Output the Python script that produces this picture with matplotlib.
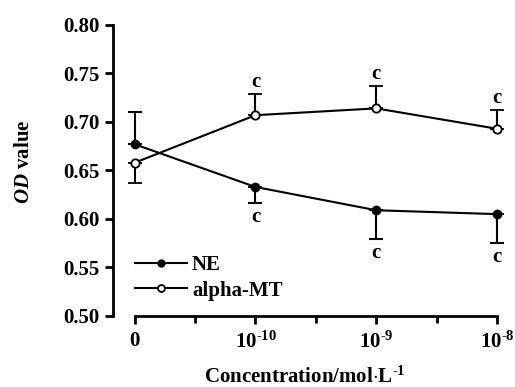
import matplotlib
matplotlib.use('Agg')
from matplotlib import pyplot as plt
from matplotlib import lines
from matplotlib.ticker import FixedLocator

plt.rcParams['font.family'] = ['Liberation Serif', 'DejaVu Serif']
plt.rcParams['font.weight'] = 'bold'
plt.rcParams['mathtext.fontset'] = 'custom'
plt.rcParams['mathtext.rm'] = 'Liberation Serif:bold'
plt.rcParams['mathtext.bf'] = 'Liberation Serif:bold'
plt.rcParams['mathtext.it'] = 'Liberation Serif:bold:italic'

# data
conc_labels = ['0', '10$^{\\mathregular{\u201010}}$', '10$^{\\mathregular{\u20109}}$', '10$^{\\mathregular{\u20108}}$']
ne_mean = [0.677, 0.633, 0.609, 0.605]
ne_err_low = [0.0, 0.017, 0.030, 0.030]
ne_err_high = [0.033, 0.0, 0.0, 0.0]
mt_mean = [0.658, 0.707, 0.714, 0.693]
mt_err_low = [0.021, 0.0, 0.0, 0.0]
mt_err_high = [0.0, 0.022, 0.023, 0.019]
ne_sig = ['', 'c', 'c', 'c']
mt_sig = ['', 'c', 'c', 'c']

x = list(range(len(conc_labels)))
fs = 15

fig = plt.figure(figsize=(5.15, 3.87), dpi=100)
ax = fig.add_axes([0.2194, 0.1835, 0.7456, 0.752])

ax.errorbar(x, ne_mean, yerr=[ne_err_low, ne_err_high], color='black', lw=1.5,
            marker='o', ms=6, mfc='black', mec='black', capsize=5, elinewidth=1.5,
            capthick=1.5, clip_on=False, zorder=3)
ax.errorbar(x, mt_mean, yerr=[mt_err_low, mt_err_high], color='black', lw=1.5,
            marker='o', ms=6, mfc='white', mec='black', mew=1.3, capsize=5, elinewidth=1.5,
            capthick=1.5, clip_on=False, zorder=4)

# significance marks
for xi, m, e, s in zip(x, ne_mean, ne_err_low, ne_sig):
    if s:
        ax.text(xi, m - e - 0.004, s, ha='center', va='top', fontsize=fs, fontweight='bold')
for xi, m, e, s in zip(x, mt_mean, mt_err_high, mt_sig):
    if s:
        ax.text(xi, m + e + 0.002, s, ha='center', va='bottom', fontsize=fs, fontweight='bold')

ax.set_xlim(-0.18, 3.0)
ax.set_ylim(0.50, 0.80)
ax.set_yticks([0.50, 0.55, 0.60, 0.65, 0.70, 0.75, 0.80])
ax.set_yticklabels(['%.2f' % v for v in ax.get_yticks()])
ax.set_xticks(x)
ax.set_xticklabels(conc_labels)
ax.xaxis.set_minor_locator(FixedLocator([0.5, 1.5, 2.5]))

ax.spines['top'].set_visible(False)
ax.spines['right'].set_visible(False)
ax.spines['bottom'].set_bounds(0, 3)
ax.spines['bottom'].set_linewidth(2)
ax.spines['left'].set_linewidth(2)
ax.tick_params(axis='both', which='both', width=2, length=6, labelsize=fs, direction='out')
ax.tick_params(axis='x', which='minor', length=5)
ax.tick_params(axis='x', pad=5)

ax.set_ylabel(r'$\mathit{OD}$ value', fontsize=fs, fontweight='bold')
ax.yaxis.set_label_coords(-0.207, 0.53)
ax.set_xlabel('Concentration/mol$\\cdot$L$^{\\mathregular{\u20101}}$', fontsize=fs, fontweight='bold', labelpad=10)

ax.legend(handles=[
    lines.Line2D([], [], color='black', lw=1.5, marker='o', ms=5, mfc='black', label='NE'),
    lines.Line2D([], [], color='black', lw=1.5, marker='o', ms=5, mfc='white', mew=1.3, label='alpha-MT')],
    loc='lower left', bbox_to_anchor=(0.024, 0.01), frameon=False, fontsize=fs,
    handlelength=2.5, handletextpad=0.25, labelspacing=0.25, borderaxespad=0.2)

fig.savefig('out.png', dpi=100)
